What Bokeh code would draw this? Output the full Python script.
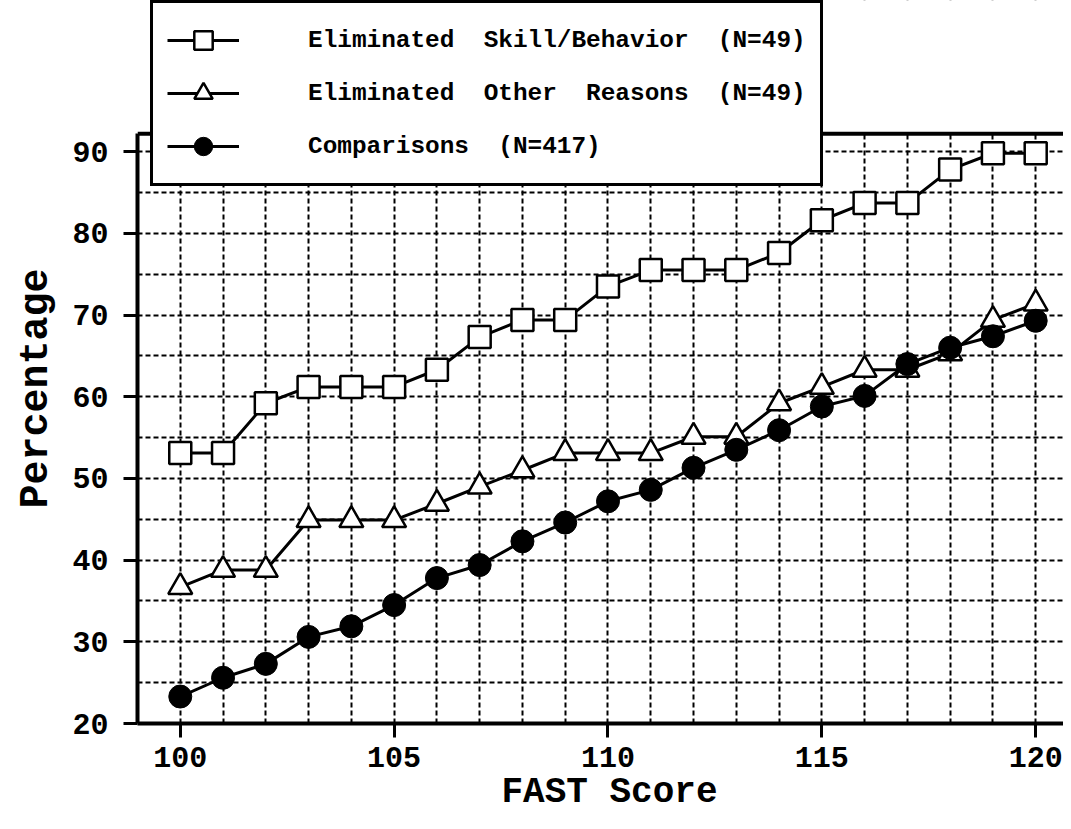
from bokeh.plotting import figure
from bokeh.models import (Range1d, FixedTicker, Legend, LegendItem, Title,
                          BoxAnnotation, Span)
from bokeh.embed import file_html
from bokeh.resources import INLINE

scores = list(range(100, 121))
skill_behavior = [53.1, 53.1, 59.2, 61.2, 61.2, 61.2, 63.3, 67.3, 69.4, 69.4, 73.5,
                  75.5, 75.5, 75.5, 77.6, 81.6, 83.7, 83.7, 87.8, 89.8, 89.8]
other_reasons = [36.7, 38.8, 38.8, 44.9, 44.9, 44.9, 46.9, 49.0, 51.0, 53.1, 53.1,
                 53.1, 55.1, 55.1, 59.2, 61.2, 63.3, 63.3, 65.3, 69.4, 71.4]
comparisons = [23.3, 25.6, 27.3, 30.6, 31.9, 34.5, 37.8, 39.4, 42.3, 44.6, 47.2,
               48.6, 51.3, 53.5, 55.9, 58.8, 60.1, 64.0, 66.0, 67.4, 69.3]
labels = ["Eliminated  Skill/Behavior  (N=49)",
          "Eliminated  Other  Reasons  (N=49)",
          "Comparisons  (N=417)"]
x_major = [100, 105, 110, 115, 120]
y_major = [20, 30, 40, 50, 60, 70, 80, 90]
y_grid = [20, 25, 30, 35, 40, 45, 50, 55, 60, 65, 70, 75, 80, 85, 90]

FONT = "Liberation Mono"
Y_TOP = 92.2   # top edge of the plotting box

p = figure(width=1063, height=821, output_backend="svg", toolbar_location=None,
           x_range=Range1d(99.0, 120.65), y_range=Range1d(20, 108.5),
           min_border_left=133, min_border_right=0, min_border_top=0,
           min_border_bottom=98)

p.background_fill_color = "white"
p.border_fill_color = "white"
p.outline_line_color = None

# grids
p.xgrid.ticker = FixedTicker(ticks=scores)
p.ygrid.ticker = FixedTicker(ticks=y_grid)
for g in (p.xgrid, p.ygrid):
    g.grid_line_color = "black"
    g.grid_line_width = 2
    g.grid_line_dash = "5 3"

# axes
p.xaxis.ticker = FixedTicker(ticks=x_major)
p.yaxis.ticker = FixedTicker(ticks=y_major)
p.yaxis.bounds = (20, Y_TOP)
for ax in (p.xaxis, p.yaxis):
    ax.axis_line_width = 4
    ax.axis_line_color = "black"
    ax.major_tick_line_width = 3
    ax.major_tick_line_color = "black"
    ax.major_tick_out = 14
    ax.major_tick_in = 0
    ax.minor_tick_line_color = None
    ax.major_label_text_font = FONT
    ax.major_label_text_font_style = "bold"
    ax.major_label_text_font_size = "30px"
    ax.major_label_text_color = "black"
p.xaxis.major_label_standoff = 9
p.yaxis.major_label_standoff = 15

# axis titles as side titles so they can be placed like the reference
ytitle = Title(text="Percentage", align="left", offset=215, standoff=22,
               text_font=FONT, text_font_style="bold", text_font_size="40px",
               text_color="black")
p.add_layout(ytitle, "left")
xtitle = Title(text="FAST Score", align="left", offset=364, standoff=0,
               text_font=FONT, text_font_style="bold", text_font_size="36px",
               text_color="black")
p.add_layout(xtitle, "below")

# series
l1 = p.line(scores, skill_behavior, line_color="black", line_width=3)
m1 = p.scatter(scores, skill_behavior, marker="square", size=22,
               fill_color="white", line_color="black", line_width=2.5)
l2 = p.line(scores, other_reasons, line_color="black", line_width=3)
m2 = p.scatter(scores, other_reasons, marker="triangle", size=24,
               fill_color="white", line_color="black", line_width=2.5)
l3 = p.line(scores, comparisons, line_color="black", line_width=3)
m3 = p.scatter(scores, comparisons, marker="circle", size=23,
               fill_color="black", line_color="black", line_width=1)

# blank area above the plotting box and its thick top edge
p.add_layout(BoxAnnotation(bottom=Y_TOP, fill_color="white", fill_alpha=1,
                           line_color=None))
p.add_layout(Span(location=Y_TOP, dimension="width", line_color="black",
                  line_width=4))

legend = Legend(items=[
    LegendItem(label=labels[0], renderers=[l1, m1]),
    LegendItem(label=labels[1], renderers=[l2, m2]),
    LegendItem(label=labels[2], renderers=[l3, m3]),
], location=(13, 537))
legend.border_line_color = "black"
legend.border_line_alpha = 1
legend.border_line_width = 3
legend.background_fill_color = "white"
legend.background_fill_alpha = 1
legend.glyph_width = 72
legend.glyph_height = 46
legend.padding = 14
legend.spacing = 7
legend.margin = 0
legend.label_standoff = 69
legend.label_text_font = FONT
legend.label_text_font_style = "bold"
legend.label_text_font_size = "24.4px"
legend.label_text_color = "black"
p.add_layout(legend, "center")

open("out.html", "w").write(file_html(p, INLINE))
